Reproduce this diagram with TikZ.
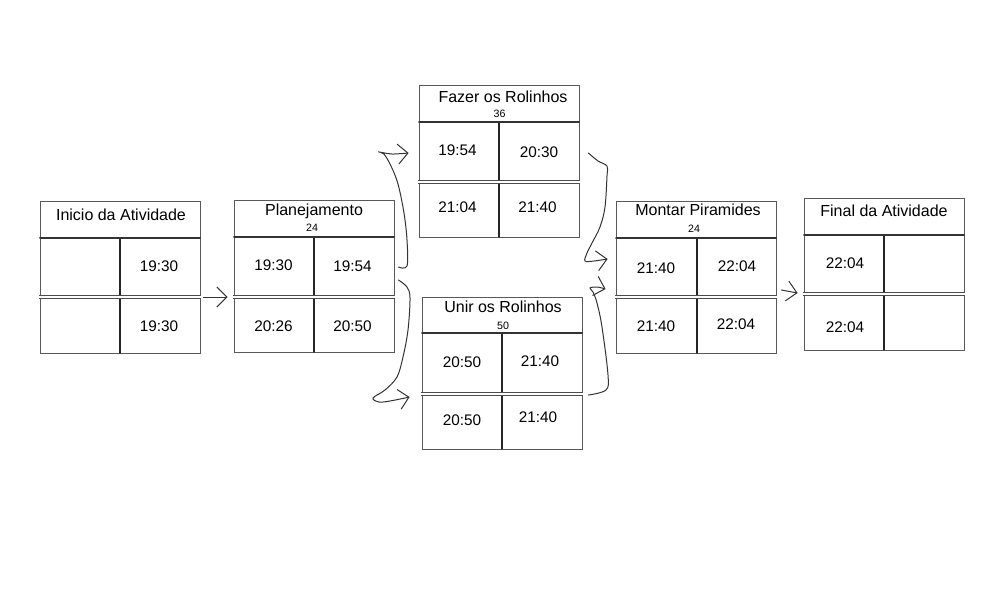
\documentclass[tikz,border=0pt]{standalone}
\usepackage{fontspec}
\setmainfont{Liberation Sans}
\usetikzlibrary{arrows.meta}

\begin{document}
\begin{tikzpicture}[x=0.75pt,y=-0.75pt,line cap=round,
  act/.style={draw=black!65,line width=0.6pt,minimum width=120pt,minimum height=114pt,inner sep=0pt},
  head/.style={draw=black!80,line width=1.5pt},
  split/.style={draw=black!85,line width=1.1pt},
  mid/.style={draw=black!70,line width=0.8pt,double=white,double distance=1pt,line cap=butt},
  title/.style={font=\fontsize{12}{14}\selectfont,text height=0.72em,text depth=0pt,inner sep=0pt},
  dur/.style={font=\fontsize{8}{10}\selectfont,text height=0.72em,text depth=0pt,inner sep=0pt},
  time/.style={font=\fontsize{11.5}{14}\selectfont,text height=0.72em,text depth=0pt,inner sep=0pt},
  link/.style={draw=black!80,line width=0.75pt,-{Straight Barb[length=7.5pt,width=15pt]}}]
\useasboundingbox (0,0) rectangle (1000,600);

%Inicio da Atividade
\node[act] (ini) at (120,277.5) {};
\draw[split] (120,238) -- (120,353);
\draw[head] (40,238) -- (200,238);
\draw[mid] (39,297) -- (201,297);
\node[title] (initit) at (121,216) {Inicio da Atividade};
\node[time] (iniA) at (159,266.5) {19:30};
\node[time] (iniB) at (159,326.5) {19:30};

%Planejamento
\node[act] (plan) at (314,276) {};
\draw[split] (314,237) -- (314,352);
\draw[head] (234,237) -- (394,237);
\draw[mid] (233,297) -- (395,297);
\node[title] (plantit) at (314,211) {Planejamento};
\node[dur] (plandur) at (312,227) {24};
\node[time] (planA) at (273.5,266) {19:30};
\node[time] (planB) at (352.5,267) {19:54};
\node[time] (planC) at (273.5,326.5) {20:26};
\node[time] (planD) at (352.5,326.5) {20:50};

%Fazer os Rolinhos
\node[act] (fazer) at (499,161) {};
\draw[split] (499,122) -- (499,237);
\draw[head] (419,122) -- (579,122);
\draw[mid] (418,182) -- (580,182);
\node[title] (fazertit) at (503,98) {Fazer os Rolinhos};
\node[dur] (fazerdur) at (499.5,113) {36};
\node[time] (fazerA) at (457.5,151) {19:54};
\node[time] (fazerB) at (539,153) {20:30};
\node[time] (fazerC) at (457.5,208) {21:04};
\node[time] (fazerD) at (537.5,208) {21:40};

%Unir os Rolinhos
\node[act] (unir) at (502,373) {};
\draw[split] (502,333) -- (502,449);
\draw[head] (422,333) -- (582,333);
\draw[mid] (421,394) -- (583,394);
\node[title] (unirtit) at (503,308) {Unir os Rolinhos};
\node[dur] (unirdur) at (503,325) {50};
\node[time] (unirA) at (462,363) {20:50};
\node[time] (unirB) at (540,362) {21:40};
\node[time] (unirC) at (462,420.5) {20:50};
\node[time] (unirD) at (538,418) {21:40};

%Montar Piramides
\node[act] (montar) at (696,277) {};
\draw[split] (697,238) -- (697,353);
\draw[head] (616,238) -- (776,238);
\draw[mid] (615,297) -- (777,297);
\node[title] (montartit) at (698,211) {Montar Piramides};
\node[dur] (montardur) at (694,228) {24};
\node[time] (montarA) at (656,269) {21:40};
\node[time] (montarB) at (737,267) {22:04};
\node[time] (montarC) at (656,327) {21:40};
\node[time] (montarD) at (736,325) {22:04};

%Final da Atividade
\node[act] (final) at (884,274) {};
\draw[split] (884,235) -- (884,350);
\draw[head] (804,235) -- (964,235);
\draw[mid] (803,294) -- (965,294);
\node[title] (finaltit) at (884,212) {Final da Atividade};
\node[time] (finalA) at (845,263.5) {22:04};
\node[time] (finalB) at (845,327.5) {22:04};

%links
\draw[link] ([shift={(3,19.5)}]ini.east) -- ([shift={(-6,21)}]plan.west);
\draw[link] plot[smooth,tension=0.55] coordinates {([shift={(4,-9)}]plan.east) (407,266) (407,240) (404,213) (398,184) (391,166) (384,154) (379,152) (392,154) ([shift={(-10,-8)}]fazer.west)};
\draw[link] plot[smooth,tension=0.55] coordinates {([shift={(4,4)}]plan.east) (407,287) (410,298) (408,330) (403,357) (397,377) (385,390) (373,398) (379,402) (390,401) ([shift={(-12,24)}]unir.west)};
\draw[link] plot[smooth,tension=0.55] coordinates {([shift={(9,-8)}]fazer.east) (598,161) (607,166) (607,176) (605,207) (600,227) (592,243) (587,253) (585,261) (594,261) ([shift={(-8,-18)}]montar.west)};
\draw[link] plot[smooth,tension=0.55] coordinates {([shift={(6,22)}]unir.east) (606,390) (608,375) (602,327) (597,303) (593,292) (590,288) (597,287) ([shift={(-10,12)}]montar.west)};
\draw[link] ([shift={(5,13)}]montar.east) -- ([shift={(-6,19)}]final.west);
\end{tikzpicture}
\end{document}
